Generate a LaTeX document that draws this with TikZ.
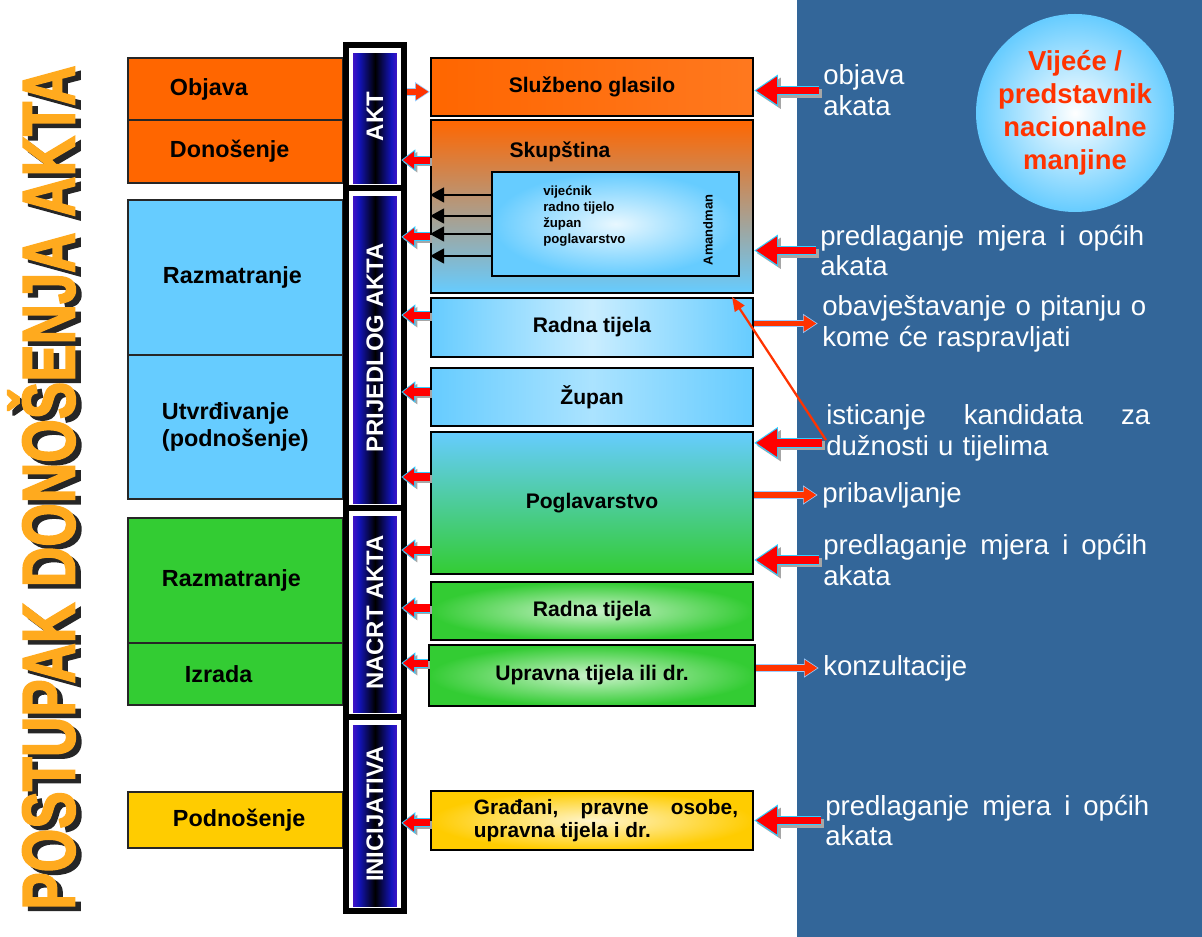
\documentclass[tikz,border=0pt]{standalone}
\usepackage{fontspec}
\setmainfont{Liberation Sans}
\newfontfamily\titlefont{Liberation Sans}[BoldFeatures={FakeBold=2.5}]
\usepackage{graphicx}
\usetikzlibrary{arrows.meta}

\definecolor{orangebox}{HTML}{FF6600}
\definecolor{lightblue}{HTML}{66CCFF}
\definecolor{pinkmid}{RGB}{226,145,158}
\definecolor{greenbox}{HTML}{33CC33}
\definecolor{yellowbox}{HTML}{FFCC00}
\definecolor{panelblue}{HTML}{336699}
\definecolor{redtxt}{HTML}{FF3300}
\definecolor{arrcyan}{HTML}{33CCFF}
\definecolor{arrpale}{HTML}{99CCFF}
\definecolor{barvio}{RGB}{120,20,210}
\definecolor{barblue}{RGB}{20,20,190}
\definecolor{titleor}{RGB}{255,170,30}

\pgfdeclarehorizontalshading{barshade}{100bp}{color(0bp)=(barvio); color(25bp)=(barvio); color(36bp)=(barblue); color(50bp)=(black); color(64bp)=(barblue); color(75bp)=(barvio); color(100bp)=(barvio)}

\begin{document}
\begin{tikzpicture}[x=0.025cm,y=-0.025cm,
    lbox/.style={draw=black!85,line width=1pt,minimum width=5.375cm,inner ysep=0pt,align=left,
        font=\bfseries\fontsize{16.6}{19.8}\selectfont},
    mbox/.style={draw=black,line width=1.4pt,minimum width=8.05cm,inner sep=0pt,
        font=\bfseries\fontsize{15}{18}\selectfont},
    barseg/.style={draw=black,line width=4pt,fill=white,inner sep=0pt,minimum width=1.45cm,
        path picture={\shade[shading=barshade] ([xshift=5pt,yshift=-6pt]path picture bounding box.north west)
            rectangle ([xshift=-5pt,yshift=3pt]path picture bounding box.south east);}},
    bartext/.style={rotate=90,text=white,font=\bfseries\fontsize{17}{20}\selectfont},
    rtext/.style={anchor=west,text=white,align=left,inner sep=0pt,text width=8.1cm,
        font=\fontsize{19.6}{22}\selectfont},
    bigarr/.style={draw=red,line width=5.5pt,shorten >=1.5pt,-{Triangle[length=15pt,width=19pt]},
        preaction={draw=gray!70,shorten >=0pt,line width=6.5pt,-{Triangle[length=17pt,width=21pt]},
            transform canvas={xshift=2pt,yshift=-2pt}},
        preaction={draw=arrcyan,shorten >=0pt,line width=7pt,-{Triangle[length=17pt,width=21.5pt]}}},
    leftarr/.style={draw=red,line width=5pt,shorten >=1.2pt,-{Triangle[length=8pt,width=12pt]},
        preaction={draw=gray!70,shorten >=0pt,line width=6pt,-{Triangle[length=10pt,width=14pt]},
            transform canvas={xshift=1.5pt,yshift=-1.5pt}},
        preaction={draw=arrcyan,shorten >=0pt,line width=6.4pt,-{Triangle[length=10pt,width=14.5pt]}}},
    smallarr/.style={draw=redtxt,line width=4.2pt,shorten >=1pt,-{Triangle[length=9pt,width=11pt]},
        preaction={draw=arrpale,shorten >=0pt,line width=5.6pt,-{Triangle[length=10.5pt,width=13pt]}}},
    thinarr/.style={draw=redtxt,line width=1.6pt,-{Triangle[length=10pt,width=8pt]}},
    blackarr/.style={draw=black,line width=1.4pt,-{Triangle[length=10pt,width=10.5pt]}}]

    \useasboundingbox (0,0) rectangle (1202,937);
    \fill[panelblue] (797,0) rectangle (1202,937);

    % title
    \node[rotate=90,inner sep=0pt,text=black!85] (titleshadow) at (47,492)
        {\resizebox{21.1cm}{1.67cm}{\titlefont\bfseries POSTUPAK DONOŠENJA AKTA}};
    \node[rotate=90,inner sep=0pt,text=titleor] (title) at (41.5,487.5)
        {\resizebox{21.1cm}{1.67cm}{\titlefont\bfseries POSTUPAK DONOŠENJA AKTA}};

    % phases
    \node[lbox,fill=orangebox,minimum height=1.55cm,text width=3.275cm,inner xsep=1.05cm] (objava) at (235.5,89) {Objava};
    \node[lbox,fill=orangebox,minimum height=1.575cm,text width=3.275cm,inner xsep=1.05cm] (donosenje) at (235.5,151.5) {Donošenje};
    \node[lbox,fill=lightblue,minimum height=3.875cm,text width=3.625cm,inner xsep=0.875cm] (razm1) at (235.5,277.5) {Razmatranje};
    \node[lbox,fill=lightblue,minimum height=3.6cm,text width=3.675cm,inner xsep=0.85cm] (utvrd) at (235.5,427) {Utvrđivanje\\(podnošenje)};
    \node[lbox,fill=greenbox,minimum height=3.125cm,text width=3.675cm,inner xsep=0.85cm] (razm2) at (235.5,580.5) {Razmatranje};
    \node[lbox,fill=greenbox,minimum height=1.55cm,text width=2.525cm,inner xsep=1.425cm] (izrada) at (235.5,674) {Izrada};
    \node[lbox,fill=yellowbox,minimum height=1.4cm,text width=3.125cm,inner xsep=1.125cm] (podnos) at (235.5,820) {Podnošenje};

    % stages column
    \node[barseg,minimum height=3.575cm] (bar_akt) at (375,116.5) {};
    \node[barseg,minimum height=8cm] (bar_prij) at (375,348) {};
    \node[barseg,minimum height=5.225cm] (bar_nacrt) at (375,612.5) {};
    \node[barseg,minimum height=4.85cm] (bar_inic) at (375,814) {};
    \node[bartext] at (bar_akt) {AKT};
    \node[bartext] at (bar_prij) {PRIJEDLOG AKTA};
    \node[bartext] at (bar_nacrt) {NACRT AKTA};
    \node[bartext] at (bar_inic) {INICIJATIVA};

    % bodies
    \node[mbox,left color=orangebox,right color=orangebox!88!white,minimum height=1.45cm] (glasilo) at (592,87) {Službeno glasilo};
    \node[mbox,top color=orangebox,middle color=pinkmid,bottom color=lightblue,minimum height=4.325cm] (skup) at (592,206.5) {};
    \node[font=\bfseries\fontsize{15}{18}\selectfont] (skuptxt) at (560,152) {Skupština};
    \node[draw=black,line width=1.4pt,shading=radial,inner color=lightblue!15!white,outer color=lightblue,
        minimum width=6.175cm,minimum height=2.6cm] (inner) at (615.5,224) {};
    \node[anchor=west,align=left,inner sep=0pt,font=\bfseries\fontsize{9.4}{11.3}\selectfont] (lista) at (543,216)
        {vijećnik\\radno tijelo\\župan\\poglavarstvo};
    \node[rotate=90,font=\bfseries\fontsize{9.2}{11}\selectfont] (amand) at (708,230) {Amandman};
    \node[mbox,left color=lightblue,right color=lightblue,middle color=lightblue!35!white,minimum height=1.475cm] (radna1) at (592,327.5) {Radna tijela};
    \node[mbox,left color=lightblue,right color=lightblue,middle color=lightblue!55!white,minimum height=1.45cm] (zupan) at (592,397) {Župan};
    \node[mbox,top color=lightblue,bottom color=greenbox,minimum height=3.55cm] (poglav) at (592,503) {Poglavarstvo};
    \node[mbox,shading=radial,inner color=greenbox!25!white,outer color=greenbox,minimum height=1.45cm] (radna2) at (592,611) {Radna tijela};
    \node[mbox,shading=radial,inner color=greenbox!25!white,outer color=greenbox,minimum width=8.15cm,minimum height=1.525cm] (uprav) at (592,675.5) {Upravna tijela ili dr.};
    \node[mbox,shading=radial,inner color=yellowbox!20!white,outer color=yellowbox,minimum height=1.475cm,
        font=\bfseries\fontsize{14.8}{16.3}\selectfont] (gradjani) at (592,820.5)
        {\hspace*{0.7cm}\parbox{6.6cm}{Građani,\hfill pravne\hfill osobe,\\upravna tijela i dr.}};

    % council
    \node[circle,minimum size=4.75cm,inner sep=0pt,shading=radial,inner color=white,outer color=lightblue,
        align=center,text=redtxt,font=\bfseries\fontsize{19.5}{23.4}\selectfont] (vijece) at (1075,113)
        {Vijeće /\\predstavnik\\nacionalne\\manjine};

    % activities
    \node[rtext] (t_objava) at (823,90.5) {objava\\akata};
    \node[rtext] (t_pred1) at (820,250.5) {predlaganje\hfill mjera\hfill i\hfill općih\\akata};
    \node[rtext] (t_obav) at (822,323.5) {obavještavanje\hfill o\hfill pitanju\hfill o\\kome će raspravljati};
    \node[rtext] (t_istic) at (826,432.5) {isticanje\hfill kandidata\hfill za\\dužnosti u tijelima};
    \node[rtext] (t_prib) at (822,495) {pribavljanje};
    \node[rtext] (t_pred2) at (823,560) {predlaganje\hfill mjera\hfill i\hfill općih\\akata};
    \node[rtext] (t_konz) at (823,668) {konzultacije};
    \node[rtext] (t_pred3) at (825,820.5) {predlaganje\hfill mjera\hfill i\hfill općih\\akata};

    % arrows
    \foreach \n/\d in {skup/1.16,skup/-0.76,radna1/0.31,zupan/0.125,poglav/0.65,poglav/-1.175,radna2/0.075,uprav/0.31,gradjani/-0.06}
        \draw[leftarr] ([yshift=\d cm]\n.west) -- ([yshift=\d cm,xshift=-4pt]\n.west -| bar_akt.east);
    \draw[smallarr] ([yshift=-0.12cm]glasilo.west -| bar_akt.east) -- ([yshift=-0.12cm]glasilo.west);
    \foreach \d in {0.725,0.2,-0.25,-0.8}
        \draw[blackarr] ([yshift=\d cm]inner.west) -- ([yshift=\d cm]inner.west -| skup.west);

    \draw[bigarr] ([xshift=-3pt]t_objava.west) -- (t_objava.west -| glasilo.east);
    \draw[bigarr] ([xshift=-3pt]t_pred1.west) -- (t_pred1.west -| skup.east);
    \draw[smallarr] (t_obav.west -| radna1.east) -- ([xshift=-3pt]t_obav.west);
    \draw[bigarr] ([xshift=-3pt,yshift=-0.26cm]t_istic.west) -- ([yshift=-0.26cm]t_istic.west -| poglav.east);
    \draw[smallarr] (t_prib.west -| poglav.east) -- ([xshift=-3pt]t_prib.west);
    \draw[bigarr] ([xshift=-3pt]t_pred2.west) -- (t_pred2.west -| poglav.east);
    \draw[smallarr] (t_konz.west -| uprav.east) -- ([xshift=-3pt]t_konz.west);
    \draw[bigarr] ([xshift=-3pt]t_pred3.west) -- (t_pred3.west -| gradjani.east);
    \draw[thinarr] ([yshift=-0.19cm]t_istic.west) -- ([xshift=-0.55cm]radna1.north east);

\end{tikzpicture}
\end{document}
